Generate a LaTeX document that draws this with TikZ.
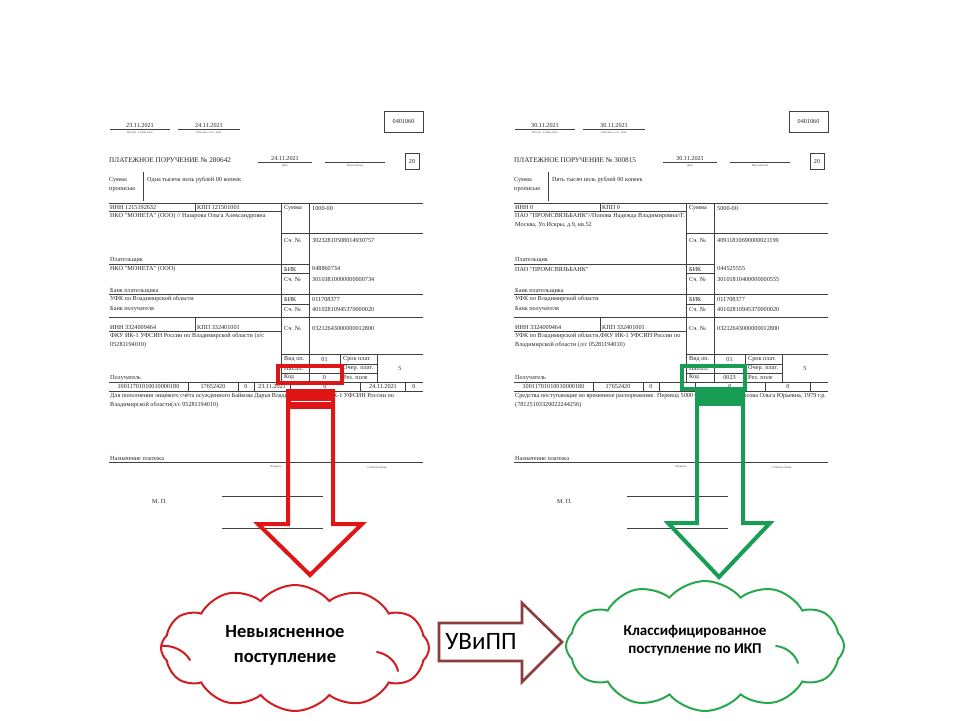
\documentclass[tikz,border=0pt]{standalone}
\usepackage{fontspec}
\setmainfont{Liberation Serif}
\newfontfamily\cfont{Carlito}
\usetikzlibrary{shapes.symbols}
\definecolor{redA}{RGB}{224,22,22}
\definecolor{greenA}{RGB}{24,158,84}
\definecolor{redC}{RGB}{212,28,34}
\definecolor{greenC}{RGB}{40,168,76}
\definecolor{brownA}{RGB}{140,60,60}
\tikzset{
  fl/.style={line width=0.5pt, draw=black!75},
  ft/.style={font=\fontsize{6.2}{7}\selectfont, anchor=west, inner sep=0pt, text=black!85},
  ftc/.style={ft, anchor=center},
  tinylab/.style={font=\fontsize{3}{3.5}\selectfont, anchor=center, inner sep=0pt, text=black!70},
  titlef/.style={font=\fontsize{7.2}{8}\selectfont, anchor=west, inner sep=0pt, text=black!85},
  cloudbox/.style={cloud, cloud puffs=12, cloud puff arc=100, aspect=2.1, line width=2pt, fill=white, inner sep=0pt},
  curl/.style={line width=2pt, line cap=round},
  cloudtxt/.style={font=\cfont\bfseries, align=center, inner sep=0pt, text=black},
  hlbox/.style={line width=3.2pt},
  bigarrow/.style={line width=4pt, line join=miter},
}
\newcommand\formgrid{%
  \draw[fl] (384,111) rectangle (423,132);
  \node[ftc] (code) at (403.5,121.5) {0401060};
  \draw[fl] (110,129) -- (170,129);
  \draw[fl] (178,129) -- (240,129);
  \node[tinylab] (lab1) at (140,133) {Поступ. в банк плат.};
  \node[tinylab] (lab2) at (209,133) {Списано со сч. плат.};
  \draw[fl] (258,162) -- (312,162);
  \node[tinylab] (lab3) at (285,166) {Дата};
  \draw[fl] (325,162) -- (385,162);
  \node[tinylab] (lab4) at (355,166) {Вид платежа};
  \draw[fl] (405,153) rectangle (419,169);
  \node[ftc] (twenty) at (412,161) {20};
  \node[ft] (sp1) at (109,180) {Сумма};
  \node[ft] (sp2) at (109,190) {прописью};
  \draw[fl] (143,172) -- (143,201);
  \draw[fl] (109,203) -- (423,203);
  \draw[fl] (109,211) -- (281,211);
  \draw[fl] (195,203) -- (195,211);
  \draw[fl] (281,203) -- (281,382);
  \draw[fl] (309,203) -- (309,382);
  \draw[fl] (281,233) -- (423,233);
  \draw[fl] (109,264) -- (309,264);
  \draw[fl] (281,273) -- (309,273);
  \draw[fl] (109,294) -- (423,294);
  \draw[fl] (281,304) -- (309,304);
  \draw[fl] (109,317) -- (423,317);
  \draw[fl] (109,331) -- (281,331);
  \draw[fl] (195,317) -- (195,331);
  \draw[fl] (281,354) -- (423,354);
  \draw[fl] (281,364) -- (377,364);
  \draw[fl] (281,373) -- (377,373);
  \draw[fl] (340,354) -- (340,382);
  \draw[fl] (377,354) -- (377,382);
  \draw[fl] (109,382) -- (423,382);
  \draw[fl] (109,391) -- (423,391);
  \foreach \xx in {188,238,254,290,360,405} \draw[fl] (\xx,382) -- (\xx,391);
  \draw[fl] (109,462) -- (423,462);
  \draw[fl] (222,496) -- (323,496);
  \draw[fl] (222,528) -- (323,528);
  \node[ft] (sumL) at (284,208) {Сумма};
  \node[ft] (acc1L) at (284,240) {Сч. №};
  \node[ft] (payer) at (110,260) {Плательщик};
  \node[ft] (bik1L) at (284,269) {БИК};
  \node[ft] (acc2L) at (284,279) {Сч. №};
  \node[ft] (pbank) at (110,291) {Банк плательщика};
  \node[ft] (rbankn) at (110,299) {УФК по Владимирской области};
  \node[ft] (bik2L) at (284,299) {БИК};
  \node[ft] (rbank) at (110,309) {Банк получателя};
  \node[ft] (acc3L) at (284,309) {Сч. №};
  \node[ft] (rinn) at (110,327) {ИНН 3324009464};
  \node[ft] (rkpp) at (197,327) {КПП 332401001};
  \node[ft] (acc4L) at (284,328) {Сч. №};
  \node[ft] (acc2V) at (312,299) {011708377};
  \node[ft] (acc3V) at (312,309) {40102810945370000020};
  \node[ft] (acc4V) at (312,328) {03212643000000012800};
  \node[ft] (vid) at (284,359) {Вид оп.};
  \node[ftc] (vidv) at (324.5,359) {01};
  \node[ft] (srok) at (343,359) {Срок плат.};
  \node[ft] (naz) at (284,368.5) {Наз.пл.};
  \node[ft] (ocher) at (343,368.5) {Очер. плат.};
  \node[ftc] (five) at (400,368) {5};
  \node[ft] (kod) at (284,377.5) {Код};
  \node[ft] (rez) at (343,377.5) {Рез. поле};
  \node[ft] (recv) at (110,378) {Получатель};
  \node[ftc] (kbk) at (148.5,386.5) {10011701010010000180};
  \node[ftc] (oktmo) at (213,386.5) {17652420};
  \node[ftc] (osn) at (246,386.5) {0};
  \node[ft] (nazn) at (110,458) {Назначение платежа};
  \node[tinylab] (sign) at (276,467) {Подпись};
  \node[tinylab] (mark) at (377,467) {Отметки банка};
  \node[ft] (mp) at (152,502) {М. П.};
}
\begin{document}
\begin{tikzpicture}[x=1pt,y=-1pt]
\useasboundingbox (0,0) rectangle (960,720);
\fill[white] (0,0) rectangle (960,720);

% ---------- left payment order ----------
\begin{scope}[name prefix=L-]
\formgrid
\node[ftc] (d1) at (140,125) {23.11.2021};
\node[ftc] (d2) at (209,125) {24.11.2021};
\node[titlef] (title) at (109,160) {ПЛАТЕЖНОЕ ПОРУЧЕНИЕ № 280642};
\node[ftc] (d3) at (285,158) {24.11.2021};
\node[ft] (words) at (147,180) {Одна тысяча ноль рублей 00 копеек};
\node[ft] (pinn) at (110,207) {ИНН 1215192632};
\node[ft] (pkpp) at (197,207) {КПП 121501001};
\node[ft] (sumv) at (312,208) {1000-00};
\node[ft] (pname) at (110,216) {НКО "МОНЕТА" (ООО) // Назарова Ольга Александровна};
\node[ft] (acc1V) at (312,240) {30232810508014930757};
\node[ft] (pbankn) at (110,269) {НКО "МОНЕТА" (ООО)};
\node[ft] (bik1V) at (312,268) {048860734};
\node[ft] (cacc) at (312,279) {30103810000000000734};
\node[ft] (rname1) at (110,336) {ФКУ ИК-1 УФСИН России по Владимирской области (л/с};
\node[ft] (rname2) at (110,345) {05281194010)};
\node[ftc] (kodv) at (324.5,377.5) {0};
\node[ftc] (per) at (272,386.5) {23.11.2021};
\node[ftc] (docn) at (325,386.5) {0};
\node[ftc] (docd) at (383,386.5) {24.11.2021};
\node[ftc] (typ) at (414,386.5) {0};
\node[ft] (purp1) at (110,396) {Для пополнения лицевого счёта осужденного Байкова Дарья Владимировна, ФКУ ИК-1 УФСИН России по};
\node[ft] (purp2) at (110,405) {Владимирской области(л/с 05281194010)};
\end{scope}

% ---------- right payment order ----------
\begin{scope}[shift={(405,0)}, name prefix=R-]
\formgrid
\node[ftc] (d1) at (140,125) {30.11.2021};
\node[ftc] (d2) at (209,125) {30.11.2021};
\node[titlef] (title) at (109,160) {ПЛАТЕЖНОЕ ПОРУЧЕНИЕ № 300815};
\node[ftc] (d3) at (285,158) {30.11.2021};
\node[ft] (words) at (147,180) {Пять тысяч ноль рублей 00 копеек};
\node[ft] (pinn) at (110,207) {ИНН 0};
\node[ft] (pkpp) at (197,207) {КПП 0};
\node[ft] (sumv) at (312,208) {5000-00};
\node[ft] (pname) at (110,216) {ПАО "ПРОМСВЯЗЬБАНК"//Попова Надежда Владимировна//Г.};
\node[ft] (pname2) at (110,225) {Москва, Ул.Искры, д.9, кв.52};
\node[ft] (acc1V) at (312,240) {40911810690000021199};
\node[ft] (pbankn) at (110,269) {ПАО "ПРОМСВЯЗЬБАНК"};
\node[ft] (bik1V) at (312,268) {044525555};
\node[ft] (cacc) at (312,279) {30101810400000000555};
\node[ft] (rname1) at (110,336) {УФК по Владимирской области,ФКУ ИК-1 УФСИН России по};
\node[ft] (rname2) at (110,345) {Владимирской области (л/с 05281194010)};
\node[ftc] (kodv) at (324.5,377.5) {0023};
\node[ftc] (docn) at (325,386.5) {0};
\node[ftc] (docd) at (383,386.5) {0};
\node[ft] (purp1) at (110,396) {Средства поступающие во временное распоряжение. Перевод 5000 00 руб. в пользу Носова Ольга Юрьевна, 1979 г.р.};
\node[ft] (purp2) at (110,405) {(78125103320022244256)};
\end{scope}

% ---------- red highlight and arrow ----------
\draw[redA, hlbox] (278,366) rectangle (342,383);
\draw[redA, bigarrow] (288,391) -- (288,524) -- (258,524) -- (310,575) -- (362,524) -- (333,524) -- (333,391) -- cycle;
\fill[redA] (286,390) rectangle (335,409);
\draw[white, line width=0.8pt] (291,401.5) -- (331,401.5);

% ---------- green highlight and arrow ----------
\draw[greenA, hlbox] (682,366) rectangle (745,389);
\draw[greenA, bigarrow] (697,392) -- (697,523) -- (668,523) -- (719,577) -- (770,523) -- (743,523) -- (743,392) -- cycle;
\fill[greenA] (695,391) rectangle (745,406);

% ---------- clouds ----------
\node[cloudbox, draw=redC, minimum width=268pt, minimum height=126pt] (unk) at (295,648) {};
\draw[redC, curl] (162,646) .. controls (172,645) and (184,650) .. (190,660);
\draw[redC, curl] (377,652) .. controls (388,654) and (396,662) .. (398,671);
\node[cloudtxt, font=\cfont\bfseries\fontsize{18.5}{25}\selectfont] (unkt) at (285,645) {Невыясненное\\поступление};

\node[cloudbox, draw=greenC, minimum width=278pt, minimum height=130pt] (cls) at (705,646) {};
\draw[greenC, curl] (776,646) .. controls (786,647) and (795,654) .. (798,663);
\node[cloudtxt, font=\cfont\bfseries\fontsize{15}{18}\selectfont] (clst) at (695,641) {Классифицированное\\поступление по ИКП};

% ---------- transfer arrow ----------
\draw[brownA, line width=2.6pt, line join=miter] (439,623) -- (522,623) -- (522,603) -- (562,642) -- (522,682) -- (522,661) -- (439,661) -- cycle;
\node[font=\cfont\fontsize{25}{28}\selectfont, inner sep=0pt] (uv) at (481,642) {УВиПП};
\end{tikzpicture}
\end{document}
